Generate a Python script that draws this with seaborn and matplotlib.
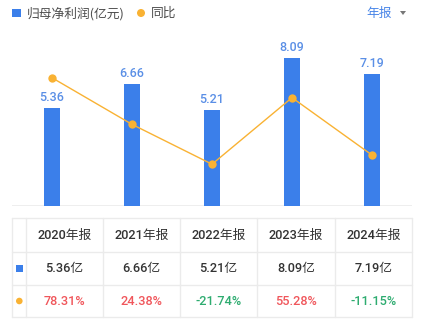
import matplotlib
matplotlib.use("Agg")
import matplotlib.pyplot as plt
import seaborn as sns
import pandas as pd
import numpy as np
from matplotlib.patches import Rectangle, Circle, Polygon

years = ["2020年报", "2021年报", "2022年报", "2023年报", "2024年报"]
profit = [5.36, 6.66, 5.21, 8.09, 7.19]
yoy = [78.31, 24.38, -21.74, 55.28, -11.15]

BLUE = "#3b7fea"
LBLUE = "#5a8fe6"
ORANGE = "#f9b233"
RED = "#f0565b"
GREEN = "#2eac70"
DARK = "#333333"
GRID = "#ebebeb"

sns.set_theme(style="white")
plt.rcParams['font.family'] = ['Roboto', 'Noto Sans CJK SC', 'DejaVu Sans']
CJK = ['Noto Sans CJK SC', 'DejaVu Sans']
NUM = ['Roboto', 'Noto Sans CJK SC', 'DejaVu Sans']

W, H = 426, 325
fig = plt.figure(figsize=(W / 100, H / 100), dpi=100)

def fax(x0, y0, x1, y1):
    return [x0 / W, 1 - y1 / H, (x1 - x0) / W, (y1 - y0) / H]

df = pd.DataFrame({"year": years, "profit": profit, "yoy": yoy, "pos": np.arange(len(years))})

ax = fig.add_axes(fax(12, 40, 412, 206))
sns.barplot(data=df, x="pos", y="profit", ax=ax, color=BLUE, width=0.2, saturation=1,
            native_scale=True, edgecolor="none")
ax.set_xlim(-0.5, 4.5)
ax.set_ylim(0, 9.05)
for i, v in enumerate(profit):
    ax.text(i, v + 0.22, f"{v:.2f}", ha="center", va="bottom", color=LBLUE,
            fontsize=9, family=NUM, fontweight="medium")
ax.axis("off")
ax.axhline(0, color=GRID, lw=1.2, zorder=0)

ax2 = ax.twinx()
sns.lineplot(data=df, x="pos", y="yoy", ax=ax2, color=ORANGE, lw=1.0, marker="o",
             markersize=6, markeredgewidth=0, markerfacecolor=ORANGE)
ax2.set_xlim(-0.5, 4.5)
ax2.set_ylim(-70.1, 122.0)
ax2.axis("off")

# overlay in pixel coordinates
ov = fig.add_axes([0, 0, 1, 1])
ov.set_xlim(0, W)
ov.set_ylim(H, 0)
ov.axis("off")
ov.patch.set_alpha(0)

# legend
ov.add_patch(Rectangle((12, 8.7), 8.5, 8.3, color=BLUE, lw=0))
ov.text(27, 13.5, "归母净利润(亿元)", va="center", ha="left", fontsize=9.2, color="#4d4d4d", family=CJK)
ov.add_patch(Circle((141, 13), 4, color=ORANGE, lw=0))
ov.text(151, 13.5, "同比", va="center", ha="left", fontsize=9.2, color="#4d4d4d", family=CJK)
ov.text(366, 13.5, "年报", va="center", ha="left", fontsize=9.2, color="#4a86e8", family=CJK)
ov.add_patch(Polygon([[400, 11], [406, 11], [403, 15]], color="#777777", lw=0))

# table
xs = [12, 26, 103, 180, 257, 335, 412]
ys = [218, 252, 285, 317]
for y in ys:
    ov.plot([12, 412], [y, y], color=GRID, lw=1.0)
for x in xs:
    ov.plot([x, x], [218, 317], color=GRID, lw=1.0)

row_y = [235.5, 268.5, 301.5]
for i in range(len(years)):
    cx = (xs[i + 1] + xs[i + 2]) / 2
    ov.text(cx, row_y[0], years[i], ha="center", va="center", fontsize=9.2, color=DARK,
            family=NUM, fontweight="medium")
    ov.text(cx, row_y[1], f"{profit[i]:.2f}亿", ha="center", va="center", fontsize=9.2, color=DARK,
            family=NUM, fontweight="medium")
    c = RED if yoy[i] >= 0 else GREEN
    ov.text(cx, row_y[2], f"{yoy[i]:.2f}%", ha="center", va="center", fontsize=9.2, color=c,
            family=NUM, fontweight="medium")

ov.add_patch(Rectangle((16, 265.3), 6.5, 6.5, color=BLUE, lw=0))
ov.add_patch(Circle((19.3, 301), 3.3, color=ORANGE, lw=0))

fig.savefig("out.png", dpi=100)
